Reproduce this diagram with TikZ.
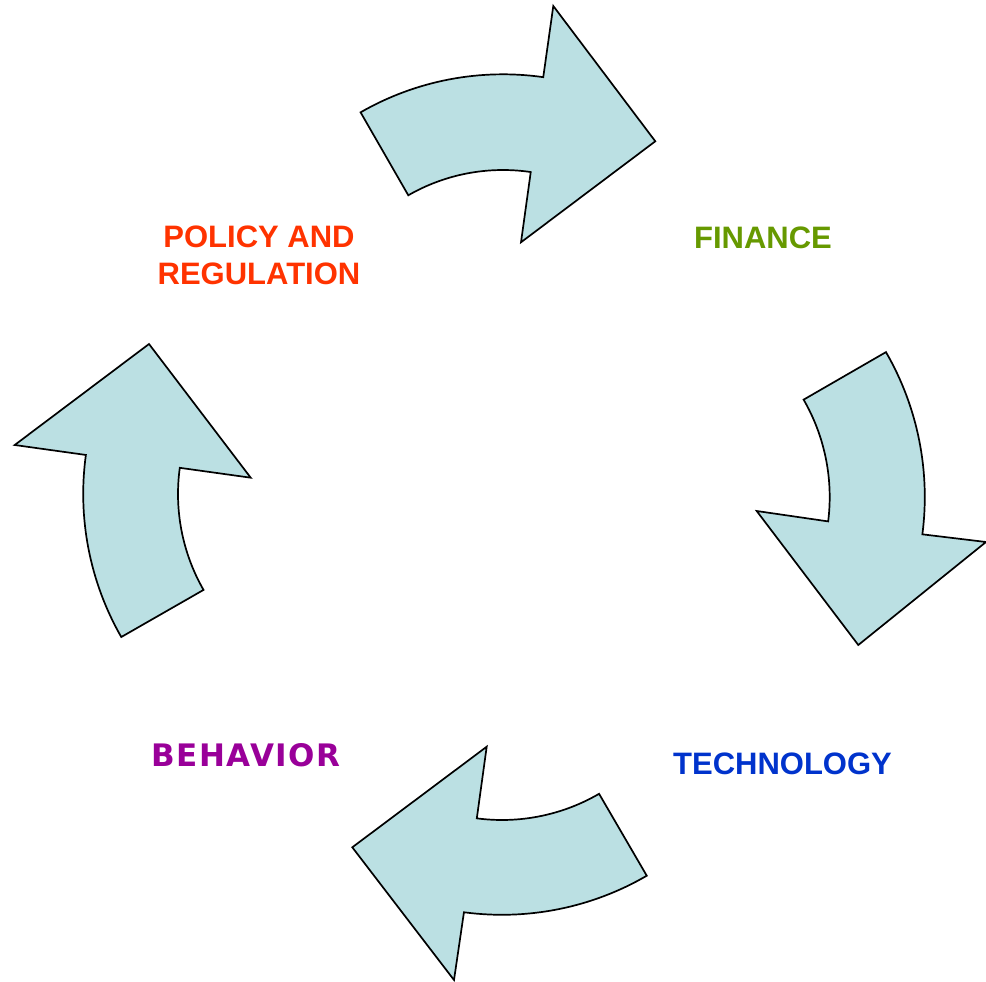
\documentclass[tikz,border=0pt]{standalone}
\usepackage{fontspec}
\setmainfont{Liberation Sans}
\newfontfamily\dejavu[LetterSpace=5]{DejaVu Sans}
\usetikzlibrary{calc}
\definecolor{arrowfill}{HTML}{BBE0E3}
\definecolor{polcol}{HTML}{FF3300}
\definecolor{fincol}{HTML}{669900}
\definecolor{techcol}{HTML}{0033CC}
\definecolor{behcol}{HTML}{990099}
\begin{document}
\begin{tikzpicture}[x=1pt,y=-1pt,
  cyc/.style={draw=black, line width=1.7pt, fill=arrowfill, line join=miter},
  lbl/.style={font=\fontsize{31}{37}\selectfont\bfseries, inner sep=0pt, anchor=base, align=center}]
\useasboundingbox (0,0) rectangle (986,982);
% arc centres
\coordinate (cT) at (503,360);
\coordinate (cR) at (635,497);
\coordinate (cB) at (502,627);
\coordinate (cL) at (371,494);
% top arrow
\draw[cyc] ($(cT)+(-119.9:285.7)$) arc[start angle=-119.9,end angle=-81.9,radius=285.7]
  -- (553.3,6) -- (655.3,141.3) -- (521,242.3)
  -- ($(cT)+(-81.6:190)$) arc[start angle=-81.6,end angle=-119.9,radius=190] -- cycle;
% right arrow
\draw[cyc] ($(cR)+(-30:289.8)$) arc[start angle=-30,end angle=7.4,radius=289.8]
  -- (986,542) -- (858.3,645) -- (756.7,511)
  -- ($(cR)+(7.2:194.7)$) arc[start angle=7.2,end angle=-30,radius=194.7] -- cycle;
% bottom arrow
\draw[cyc] ($(cB)+(59.8:287.8)$) arc[start angle=59.8,end angle=97.6,radius=287.8]
  -- (454,980) -- (352.3,847.3) -- (486.7,746.7)
  -- ($(cB)+(97.5:193)$) arc[start angle=97.5,end angle=59.8,radius=193] -- cycle;
% left arrow
\draw[cyc] ($(cL)+(150.2:287.8)$) arc[start angle=150.2,end angle=187.8,radius=287.8]
  -- (14.7,445) -- (149,344) -- (250.7,477.7)
  -- ($(cL)+(187.8:193)$) arc[start angle=187.8,end angle=150.2,radius=193] -- cycle;
% labels
\node[lbl, text=polcol] (policy) at (259,284) {POLICY AND\\REGULATION};
\node[lbl, text=fincol] (finance) at (763,248) {FINANCE};
\node[lbl, text=techcol] (tech) at (782.5,774) {TECHNOLOGY};
\node[lbl, text=behcol, font=\dejavu\fontsize{31}{36}\selectfont\bfseries] (behavior) at (246,766) {BEHAVIOR};
\end{tikzpicture}
\end{document}
